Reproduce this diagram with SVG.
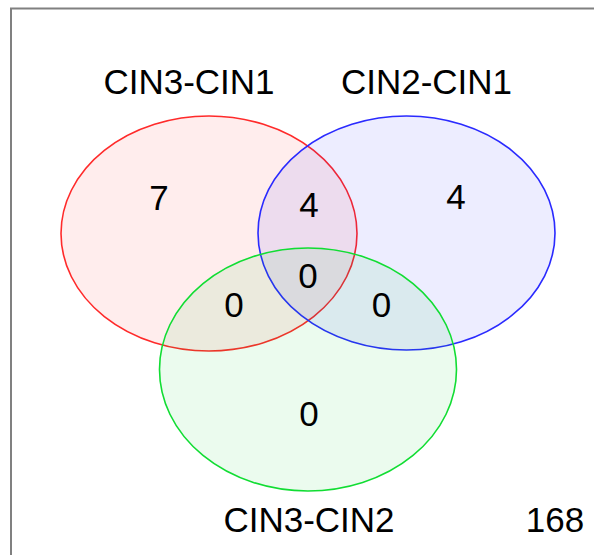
<svg xmlns="http://www.w3.org/2000/svg" width="594" height="555" viewBox="0 0 594 555">
<style>
text{font-family:"Liberation Sans",Arial,sans-serif;font-size:35px;fill:#000;text-anchor:middle}
.set{stroke-width:1.6}
</style>
<rect x="0" y="0" width="594" height="555" fill="#fff"/>
<rect x="11" y="8.5" width="600" height="570" fill="none" stroke="#808080" stroke-width="2"/>
<g id="set-cin3-cin1"><ellipse class="set" cx="209" cy="233.5" rx="148" ry="117.5" fill="#ff0000" fill-opacity="0.07" stroke="#ff2a2a"/></g>
<g id="set-cin2-cin1"><ellipse class="set" cx="406.5" cy="233" rx="148.5" ry="117" fill="#0000ff" fill-opacity="0.07" stroke="#2a2aff"/></g>
<g id="set-cin3-cin2"><ellipse class="set" cx="308" cy="369.5" rx="148.5" ry="121.5" fill="#00cc22" fill-opacity="0.08" stroke="#11dd33"/></g>
<g id="connectors"></g>
<g id="labels">
<text x="189" y="94">CIN3-CIN1</text>
<text x="426.5" y="94">CIN2-CIN1</text>
<text x="309" y="532">CIN3-CIN2</text>
<text x="555" y="532">168</text>
</g>
<g id="counts">
<text x="159" y="210">7</text>
<text x="309" y="217">4</text>
<text x="456" y="209">4</text>
<text x="308" y="288">0</text>
<text x="234" y="316.5">0</text>
<text x="381.5" y="316.5">0</text>
<text x="309" y="426">0</text>
</g>
</svg>
